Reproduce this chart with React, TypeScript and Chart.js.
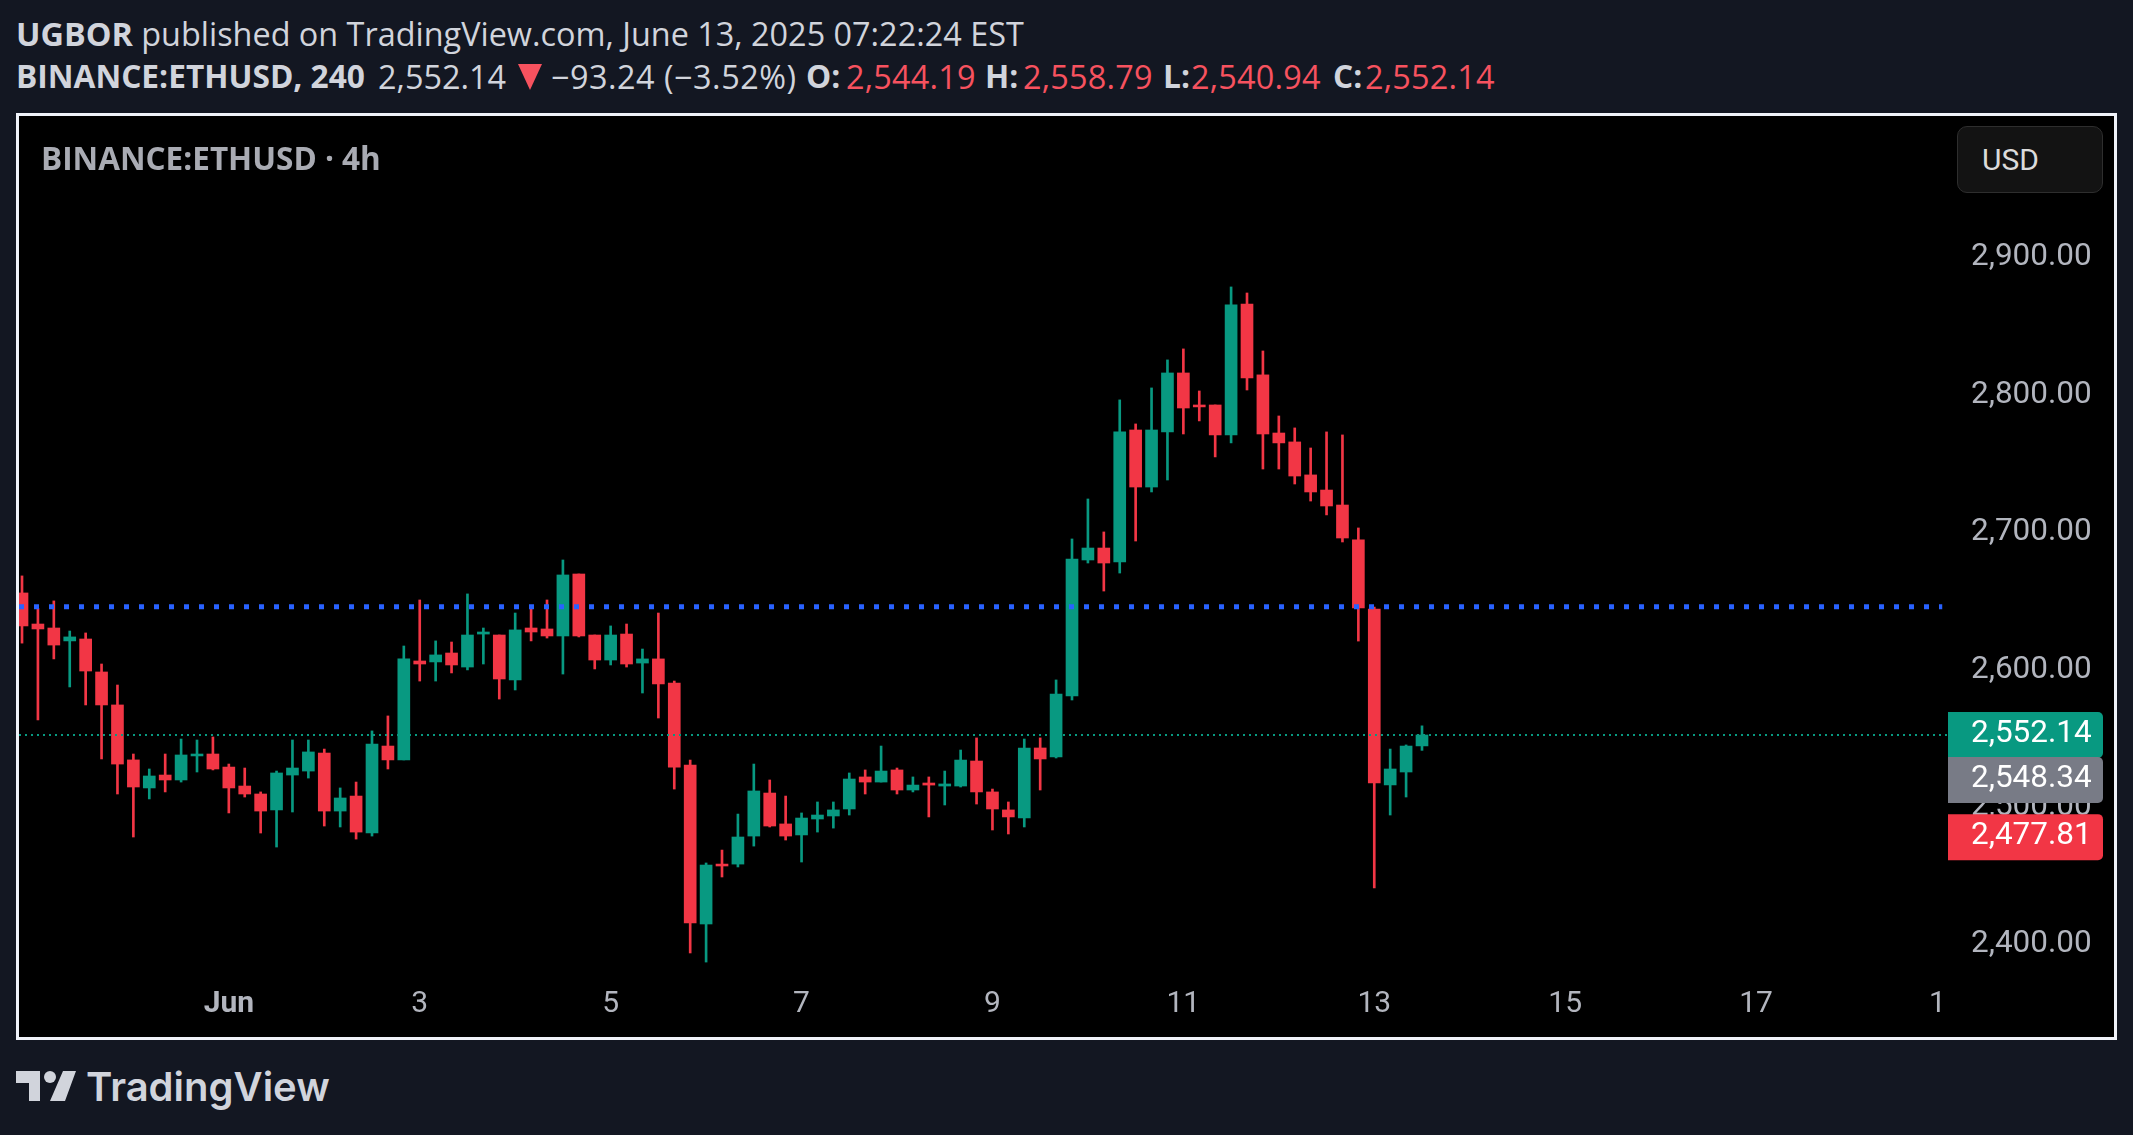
import React, { useEffect, useRef } from "react";
import { Chart, registerables } from "chart.js";

Chart.register(...registerables);

const opens = [
  2655.5, 2632.9, 2630.0, 2620.6, 2622.0, 2598.0, 2574.0, 2534.0, 2513.6, 2523.0,
  2519.4, 2536.9, 2538.3, 2528.8, 2515.0, 2509.2, 2497.6, 2523.0, 2525.9, 2539.0,
  2496.8, 2507.7, 2480.8, 2544.1, 2534.0, 2606.0, 2605.3, 2611.8, 2601.6, 2625.6,
  2624.9, 2592.2, 2630.0, 2629.3, 2624.2, 2669.3, 2624.9, 2606.7, 2625.6, 2604.5,
  2607.5, 2590.0, 2530.3, 2414.6, 2458.2, 2458.2, 2478.6, 2509.9, 2487.4, 2479.4,
  2491.0, 2493.2, 2498.3, 2521.6, 2517.9, 2526.7, 2512.1, 2517.2, 2515.0, 2515.0,
  2533.2, 2510.7, 2497.6, 2491.7, 2542.7, 2536.1, 2580.5, 2679.5, 2688.2, 2678.0,
  2774.1, 2732.6, 2772.7, 2815.6, 2792.3, 2792.3, 2770.5, 2865.8, 2814.2, 2771.9,
  2765.4, 2741.4, 2730.4, 2719.5, 2694.1, 2643.8, 2515.8, 2525.2, 2544.19,
];
const closes = [
  2631.5, 2629.3, 2617.6, 2623.5, 2598.7, 2574.0, 2531.0, 2514.3, 2522.3, 2519.4,
  2537.6, 2538.3, 2527.4, 2513.6, 2509.2, 2496.8, 2524.5, 2528.1, 2539.8, 2496.8,
  2506.3, 2481.5, 2545.6, 2534.0, 2607.5, 2603.8, 2610.4, 2603.1, 2624.9, 2627.1,
  2592.9, 2628.6, 2627.1, 2624.2, 2668.6, 2624.2, 2606.7, 2624.9, 2603.8, 2607.5,
  2589.3, 2528.8, 2415.3, 2457.5, 2456.8, 2477.9, 2511.4, 2485.9, 2478.6, 2491.7,
  2493.9, 2497.6, 2520.1, 2517.9, 2525.9, 2512.1, 2515.7, 2515.7, 2516.5, 2533.9,
  2510.7, 2498.3, 2492.5, 2542.7, 2534.7, 2582.0, 2680.2, 2688.2, 2677.3, 2772.7,
  2732.6, 2774.1, 2815.6, 2790.1, 2790.9, 2770.5, 2865.1, 2812.0, 2771.2, 2764.7,
  2740.6, 2729.0, 2718.8, 2695.5, 2644.6, 2517.2, 2527.4, 2544.1, 2552.14,
];
const highs = [
  2667.9, 2644.3, 2649.7, 2627.8, 2626.4, 2603.8, 2588.5, 2538.3, 2527.4, 2538.3,
  2549.2, 2548.5, 2550.7, 2531.0, 2528.1, 2510.7, 2525.9, 2548.5, 2548.5, 2541.9,
  2513.6, 2517.9, 2555.1, 2566.0, 2616.9, 2650.4, 2620.6, 2619.8, 2654.8, 2630.0,
  2624.9, 2640.9, 2644.3, 2650.4, 2679.5, 2669.3, 2624.9, 2631.5, 2632.9, 2614.7,
  2640.9, 2591.4, 2533.9, 2459.0, 2468.4, 2494.6, 2531.0, 2519.4, 2507.7, 2495.4,
  2503.4, 2503.4, 2524.5, 2526.7, 2544.1, 2528.1, 2521.6, 2521.6, 2525.9, 2541.2,
  2550.0, 2512.8, 2503.4, 2549.2, 2550.0, 2592.2, 2694.8, 2723.9, 2699.9, 2796.0,
  2778.5, 2804.7, 2825.1, 2833.1, 2802.5, 2792.3, 2878.2, 2873.8, 2831.6, 2784.3,
  2775.6, 2761.0, 2772.7, 2770.5, 2702.8, 2645.3, 2541.9, 2544.9, 2558.79,
];
const lows = [
  2619.0, 2563.1, 2607.5, 2587.1, 2574.0, 2534.7, 2509.2, 2477.9, 2505.6, 2510.7,
  2517.9, 2525.2, 2526.7, 2495.4, 2507.0, 2480.8, 2470.6, 2496.1, 2520.8, 2485.9,
  2485.2, 2476.4, 2478.6, 2527.4, 2534.0, 2591.4, 2591.4, 2597.3, 2599.5, 2603.8,
  2578.3, 2584.9, 2620.6, 2622.7, 2596.5, 2623.5, 2600.2, 2603.1, 2601.6, 2582.7,
  2564.5, 2512.8, 2393.5, 2386.9, 2448.8, 2456.1, 2471.3, 2485.2, 2475.7, 2459.7,
  2481.5, 2484.4, 2493.9, 2509.2, 2517.9, 2509.2, 2510.7, 2492.5, 2501.2, 2514.3,
  2501.9, 2483.0, 2480.1, 2485.2, 2512.1, 2535.4, 2577.6, 2677.3, 2656.9, 2670.0,
  2693.3, 2729.0, 2737.7, 2771.2, 2780.7, 2754.5, 2764.7, 2803.2, 2745.7, 2745.7,
  2734.8, 2722.4, 2712.3, 2692.6, 2620.5, 2440.8, 2493.9, 2507.0, 2540.94,
];

const priceTicks = [2400, 2500, 2600, 2700, 2800, 2900];
const timeTickPositions = [13, 25, 37, 49, 61, 73, 85, 97, 109, 120.4];
const timeTickLabels = ["Jun", "3", "5", "7", "9", "11", "13", "15", "17", "1"];

const prevClose = 2645.38;
const lastPrice = 2552.14;
const grayPrice = "2,548.34";
const lowPrice = 2477.81;

const GREEN = "#089981";
const RED = "#f23645";
const TEXT = "#d1d4dc";
const HEADER_RED = "#f7525f";
const AXIS_TEXT = "#b2b5be";
const FONT = "'Open Sans', sans-serif";

const money = (v: number) =>
  v.toLocaleString("en-US", { minimumFractionDigits: 2, maximumFractionDigits: 2 });

// right-hand price tags, painted over the axis labels
const priceTags = {
  id: "priceTags",
  afterDraw(chart: any) {
    const { ctx, scales } = chart;
    const left = chart.chartArea.right + 1;
    const w = 155;
    const h = 46;
    const tag = (centre: number, color: string, text: string) => {
      ctx.save();
      ctx.fillStyle = color;
      ctx.beginPath();
      ctx.roundRect(left, centre - h / 2, w, h, [0, 5, 5, 0]);
      ctx.fill();
      ctx.fillStyle = "#ffffff";
      ctx.font = "31.5px Roboto";
      ctx.textAlign = "left";
      ctx.textBaseline = "middle";
      ctx.fillText(text, left + 23, centre - 1);
      ctx.restore();
    };
    const greenY = scales.y.getPixelForValue(lastPrice);
    tag(scales.y.getPixelForValue(lowPrice), RED, money(lowPrice));
    tag(greenY, GREEN, money(lastPrice));
    tag(greenY + 45, "#787b86", grayPrice);
  },
};

const headerLine2: [number, string, string, number, number][] = [
  [16, "BINANCE:ETHUSD, 240", TEXT, 700, 0],
  [378, "2,552.14", TEXT, 400, 0],
  [551, "−93.24 (−3.52%)", TEXT, 400, 0.5],
  [806, "O:", TEXT, 700, 0],
  [846, "2,544.19", HEADER_RED, 400, 0.2],
  [985, "H:", TEXT, 700, 0],
  [1023, "2,558.79", HEADER_RED, 400, 0.2],
  [1163, "L:", TEXT, 700, 0],
  [1191, "2,540.94", HEADER_RED, 400, 0.2],
  [1333, "C:", TEXT, 700, 0],
  [1365, "2,552.14", HEADER_RED, 400, 0.2],
];

const textRow = (top: number, size: number): React.CSSProperties => ({
  position: "absolute",
  top,
  height: 40,
  lineHeight: "40px",
  fontFamily: FONT,
  fontSize: size,
  whiteSpace: "pre",
});

export default function App() {
  const canvasRef = useRef<HTMLCanvasElement>(null);

  useEffect(() => {
    if (!canvasRef.current) return;
    const colors = opens.map((o, i) => (closes[i] >= o ? GREEN : RED));
    const chart = new Chart(canvasRef.current, {
      type: "bar",
      data: {
        datasets: [
          {
            type: "line",
            data: [{ x: -0.189, y: prevClose }, { x: 120.7, y: prevClose }],
            borderColor: "#2962ff",
            borderWidth: 5,
            borderDash: [5, 10],
            pointRadius: 0,
            order: 0,
          },
          {
            type: "line",
            data: [{ x: -0.189, y: lastPrice }, { x: 121, y: lastPrice }],
            borderColor: GREEN,
            borderWidth: 2,
            borderDash: [2, 4],
            pointRadius: 0,
            order: 0,
          },
          {
            data: opens.map((o, i) => ({ x: i, y: [o, closes[i]] })),
            backgroundColor: colors,
            grouped: false,
            barPercentage: 1,
            categoryPercentage: 1,
            maxBarThickness: 12,
            order: 1,
          },
          {
            data: opens.map((_, i) => ({ x: i, y: [lows[i], highs[i]] })),
            backgroundColor: colors,
            grouped: false,
            barPercentage: 1,
            categoryPercentage: 1,
            maxBarThickness: 2,
            order: 2,
          },
        ] as any,
      },
      options: {
        animation: false,
        responsive: false,
        maintainAspectRatio: false,
        layout: { padding: 0 },
        plugins: { legend: { display: false }, tooltip: { enabled: false } },
        scales: {
          x: {
            type: "linear",
            offset: false,
            min: -0.189,
            max: 121,
            grid: { display: false, drawTicks: false },
            border: { display: false },
            afterBuildTicks: (axis: any) => {
              axis.ticks = timeTickPositions.map((value) => ({ value }));
            },
            afterFit: (axis: any) => {
              axis.height = 52;
              axis.paddingLeft = 0;
              axis.paddingRight = 0;
            },
            ticks: {
              autoSkip: false,
              maxRotation: 0,
              padding: 1,
              color: AXIS_TEXT,
              font: (ctx: any) => ({
                family: "Roboto",
                size: 30,
                weight: ctx.index === 0 ? "bold" : "normal",
              }),
              callback: (_: any, index: number) => timeTickLabels[index],
            },
          },
          y: {
            position: "right",
            min: 2370.2,
            max: 3002.6,
            grid: { display: false, drawTicks: false },
            border: { display: false },
            afterBuildTicks: (axis: any) => {
              axis.ticks = priceTicks.map((value) => ({ value }));
            },
            afterFit: (axis: any) => {
              axis.width = 167;
              axis.paddingTop = 0;
              axis.paddingBottom = 0;
            },
            ticks: {
              padding: 24,
              labelOffset: 0.5,
              color: AXIS_TEXT,
              font: { family: "Roboto", size: 31.5 },
              callback: (value: any) => money(Number(value)),
            },
          },
        },
      },
      plugins: [priceTags],
    } as any);
    return () => chart.destroy();
  }, []);

  return (
    <div style={{ position: "fixed", inset: 0, background: "#131722", overflow: "hidden" }}>
      <div style={{ ...textRow(13, 32.4), left: 16, color: TEXT }}>
        <b>UGBOR</b> published on TradingView.com, June 13, 2025 07:22:24 EST
      </div>
      {headerLine2.map(([left, text, color, weight, spacing]) => (
        <div
          key={left}
          style={{
            ...textRow(56, weight === 700 ? 31.7 : 32.4),
            left,
            color,
            fontWeight: weight,
            letterSpacing: spacing,
          }}
        >
          {text}
        </div>
      ))}
      <svg style={{ position: "absolute", left: 518, top: 64 }} width="24" height="26">
        <path d="M0 0H24L12 26Z" fill={HEADER_RED} />
      </svg>

      <div
        style={{
          position: "absolute",
          left: 16,
          top: 113,
          width: 2095,
          height: 921,
          border: "3px solid #f0f3fa",
          background: "#000",
        }}
      >
        <canvas ref={canvasRef} width={2095} height={921} style={{ display: "block" }} />
        <div
          style={{
            position: "absolute",
            left: 22,
            top: 22,
            height: 40,
            lineHeight: "40px",
            fontFamily: FONT,
            fontSize: 31.5,
            fontWeight: 700,
            color: "#a9abb3",
            whiteSpace: "pre",
          }}
        >
          BINANCE:ETHUSD · 4h
        </div>
        <div
          style={{
            position: "absolute",
            left: 1938,
            top: 10,
            width: 146,
            height: 67,
            boxSizing: "border-box",
            background: "#131313",
            border: "1px solid #2e2e2e",
            borderRadius: 10,
            color: "#dbdbdb",
            fontFamily: "Roboto",
            fontSize: 30,
            lineHeight: "65px",
            paddingLeft: 24,
          }}
        >
          USD
        </div>
      </div>

      <svg style={{ position: "absolute", left: 16, top: 1071 }} width="62" height="31">
        <path d="M0 0H24V30H13V12H0Z M47 0H60L49 30H34Z" fill={TEXT} />
        <circle cx="34" cy="6" r="6" fill={TEXT} />
      </svg>
      <div
        style={{
          position: "absolute",
          left: 86,
          top: 1062,
          height: 50,
          lineHeight: "50px",
          fontFamily: "Inter",
          fontSize: 40,
          fontWeight: 600,
          color: TEXT,
          whiteSpace: "pre",
        }}
      >
        TradingView
      </div>
    </div>
  );
}
